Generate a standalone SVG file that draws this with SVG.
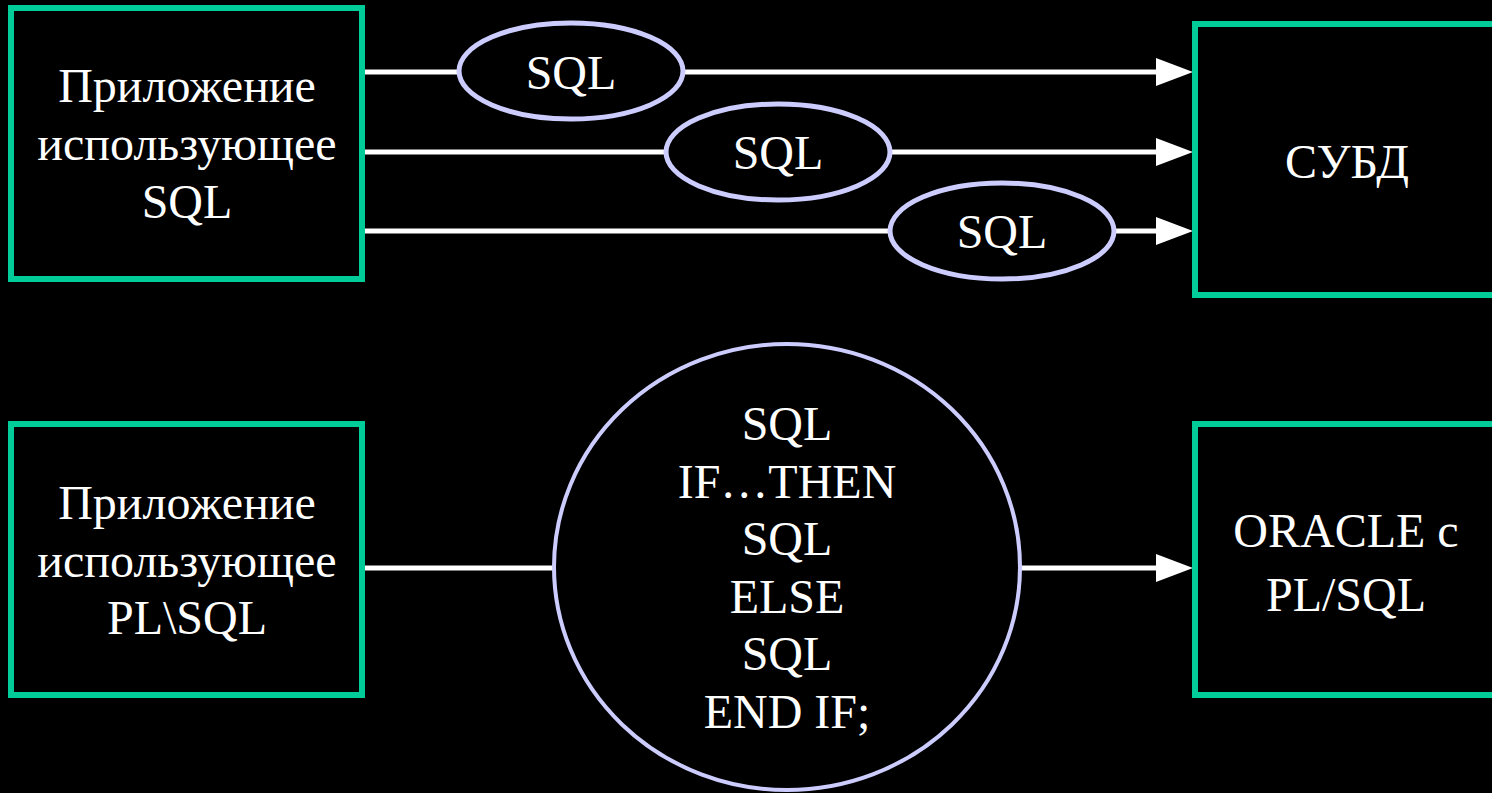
<svg xmlns="http://www.w3.org/2000/svg" width="1492" height="793" viewBox="0 0 1492 793">
<defs>
<style>
.box{fill:#000;stroke:#00CC99;stroke-width:6}
.oval{fill:#000;stroke:#CCCCFF;stroke-width:5}
.big{fill:#000;stroke:#CCCCFF;stroke-width:4}
.conn{stroke:#fff;stroke-width:5;fill:none}
.t{font-family:"Liberation Serif","DejaVu Serif","Times New Roman",Times,serif;font-size:48px;fill:#fff;text-anchor:middle}
</style>
<marker id="arr" markerUnits="userSpaceOnUse" markerWidth="38" markerHeight="30" refX="4" refY="15" orient="auto">
<path d="M0,1 L37,15 L0,29 Z" fill="#fff"/>
</marker>
</defs>
<rect width="1492" height="793" fill="#000"/>
<g id="connectors">
<line class="conn" x1="365" y1="72" x2="1160" y2="72" marker-end="url(#arr)"/>
<line class="conn" x1="365" y1="152" x2="1160" y2="152" marker-end="url(#arr)"/>
<line class="conn" x1="365" y1="231" x2="1160" y2="231" marker-end="url(#arr)"/>
<line class="conn" x1="365" y1="568" x2="1160" y2="568" marker-end="url(#arr)"/>
</g>
<g id="app-sql">
<rect class="box" x="11" y="8" width="351" height="271"/>
<text class="t" x="187" y="102">Приложение</text>
<text class="t" x="187" y="160">использующее</text>
<text class="t" x="187" y="218">SQL</text>
</g>
<g id="sql1">
<ellipse class="oval" cx="571" cy="71" rx="112" ry="48"/>
<text class="t" x="571" y="89">SQL</text>
</g>
<g id="sql2">
<ellipse class="oval" cx="778" cy="152" rx="112" ry="48"/>
<text class="t" x="778" y="169">SQL</text>
</g>
<g id="sql3">
<ellipse class="oval" cx="1002" cy="231" rx="112" ry="48"/>
<text class="t" x="1002" y="248">SQL</text>
</g>
<g id="dbms">
<rect class="box" x="1195" y="24" width="310" height="271"/>
<text class="t" x="1347" y="178">СУБД</text>
</g>
<g id="app-plsql">
<rect class="box" x="11" y="424" width="351" height="271"/>
<text class="t" x="187" y="519">Приложение</text>
<text class="t" x="187" y="577">использующее</text>
<text class="t" x="187" y="634">PL\SQL</text>
</g>
<g id="block">
<ellipse class="big" cx="787" cy="567" rx="233" ry="223"/>
<text class="t" x="787" y="440">SQL</text>
<text class="t" x="787" y="498">IF…THEN</text>
<text class="t" x="787" y="555">SQL</text>
<text class="t" x="787" y="613">ELSE</text>
<text class="t" x="787" y="670">SQL</text>
<text class="t" x="787" y="728">END IF;</text>
</g>
<g id="oracle">
<rect class="box" x="1195" y="424" width="310" height="271"/>
<text class="t" x="1346" y="547">ORACLE с</text>
<text class="t" x="1346" y="611">PL/SQL</text>
</g>
</svg>
